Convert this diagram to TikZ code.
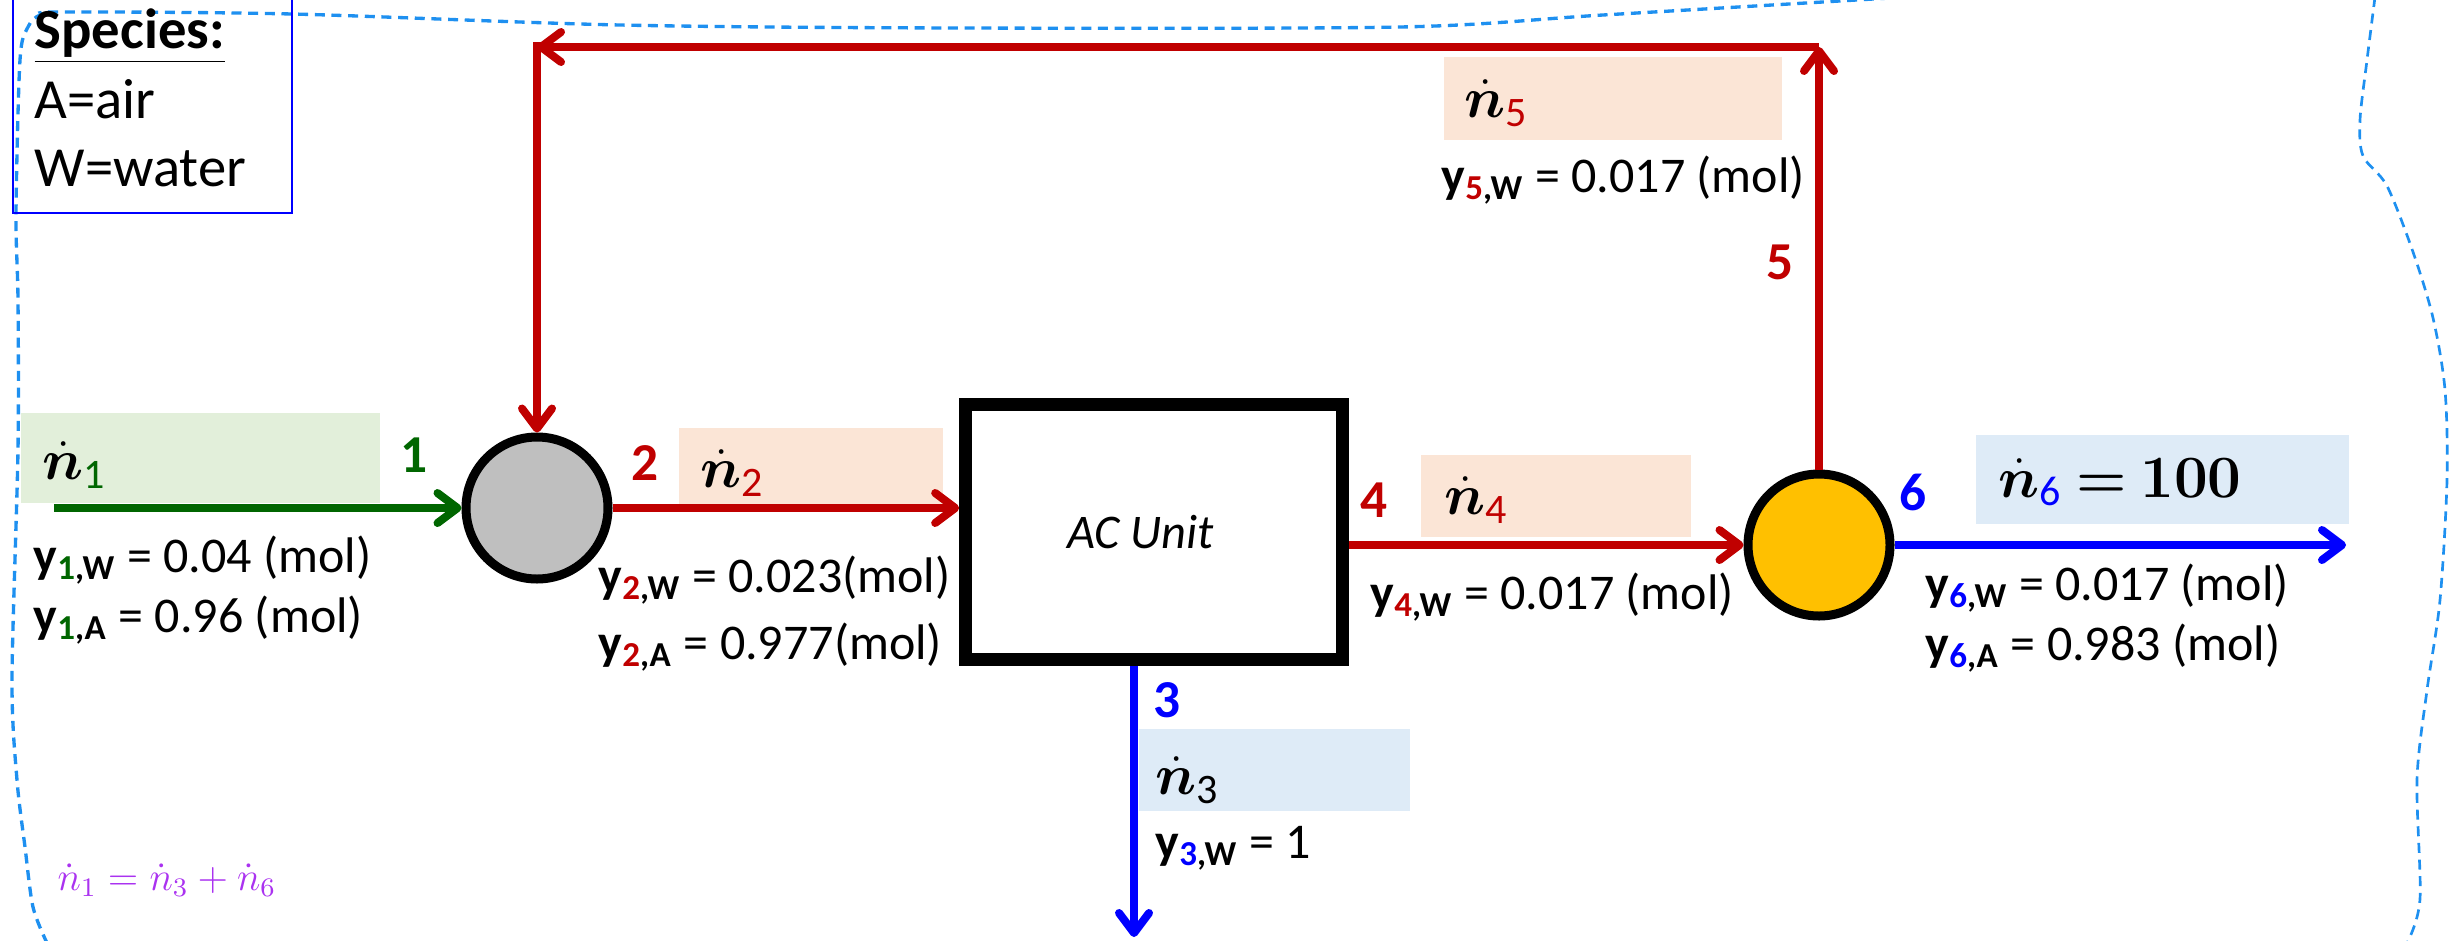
\documentclass[tikz,border=0pt]{standalone}
\usepackage{fontspec}
\setmainfont{Carlito}
\newfontfamily\lmserif{Latin Modern Roman}
\usepackage{bm}
\usetikzlibrary{arrows.meta}
\definecolor{strred}{RGB}{192,0,0}
\definecolor{strgreen}{RGB}{0,102,0}
\definecolor{strblue}{RGB}{0,0,255}
\definecolor{bggreen}{RGB}{226,239,218}
\definecolor{bgpeach}{RGB}{251,229,214}
\definecolor{bgblue}{RGB}{222,235,247}
\definecolor{mixgray}{RGB}{191,191,191}
\definecolor{splityellow}{RGB}{255,192,0}
\definecolor{envblue}{RGB}{30,144,240}
\definecolor{notepurple}{RGB}{170,50,240}
\newcommand{\ysub}[3]{\textbf{y}\textsubscript{\bfseries\textcolor{#1}{#2},#3}}
\newcommand{\ndot}[2]{$\dot{\bm{n}}$\textsubscript{\textcolor{#1}{#2}}}

\begin{document}
\begin{tikzpicture}[x=0.3pt,y=-0.3pt,font=\fontsize{15}{17}\selectfont,
  flow/.style={line width=2.4pt,-{Straight Barb[length=6pt,width=9pt,round]}},
  unit/.style={circle,draw,line width=2.7pt,minimum size=42.6pt,inner sep=0pt},
  num/.style={font=\fontsize{16}{18}\selectfont\bfseries},
  rate/.style={anchor=west,inner sep=0pt,font=\fontsize{18}{20}\selectfont},
  comp/.style={anchor=west,inner sep=0pt},
  spc/.style={anchor=base west,inner sep=0pt,font=\fontsize{17}{19}\selectfont},
  env/.style={envblue,line width=1pt,dash pattern=on 3pt off 2pt}]
  \useasboundingbox (0,0) rectangle (2460,940);

  % system envelope
  \draw[env] plot[smooth,tension=0.5] coordinates {(1907,-3) (1603,15) (1400,27) (960,28)
    (620,25) (292,14) (63,12) (40,15) (28,27) (20,60) (16,213) (18,300) (18,450)
    (12,680) (17,780) (25,847) (33,907) (47,943)};
  \draw[env,line width=0.8pt] plot[smooth,tension=0.5] coordinates {(2375,-3) (2367,60)
    (2360,120) (2363,156) (2387,186) (2413,252) (2433,318) (2445,390) (2447,480)
    (2440,600) (2427,690) (2417,779) (2420,899) (2407,943)};

  % species
  \draw[strblue,line width=0.6pt] (13,-5) rectangle (292,213);
  \node[spc,font=\fontsize{17}{19}\selectfont\bfseries] (spec) at (34,48) {\underline{Species:}};
  \node[spc] (air) at (34,118) {A=air};
  \node[spc] (water) at (34,186) {W=water};

  % label boxes
  \foreach \col/\xa/\ya/\xb/\yb in {bggreen/21/413/380/503, bgpeach/679/428/943/510,
      bgblue/1139/729/1410/811, bgpeach/1421/455/1691/537,
      bgpeach/1444/57/1782/140, bgblue/1976/435/2349/524}
    \fill[\col] (\xa,\ya) rectangle (\xb,\yb);

  % units
  \node[unit,fill=mixgray] (mix) at (537,508) {};
  \node[draw,line width=3.9pt,minimum width=113pt,minimum height=76.5pt,
    font=\fontsize{14.5}{16}\selectfont\itshape] (ac) at (1154,532) {AC Unit\hspace*{8pt}};
  \node[unit,fill=splityellow] (split) at (1819,545) {};

  % free ends
  \coordinate (in1) at (54,508);
  \coordinate (out3) at (1134,937);
  \coordinate (out6) at (2346,545);
  \coordinate (top5) at (1819,47);
  \coordinate (top2) at (537,47);

  % streams
  \draw[flow,strgreen] (in1) -- (mix);
  \draw[flow,strred] (mix) -- (mix -| ac.west);
  \draw[flow,strblue] (ac.south -| out3) -- (out3);
  \draw[flow,strred] (ac.east |- split) -- (split);
  \draw[flow,strblue] (split) -- (out6);
  \draw[flow,strred] (split) -- (top5);
  \draw[flow,strred] (top5) -- (top2);
  \draw[flow,strred,shorten <=-1.5pt] (top2) -- (mix);

  % stream numbers
  \node[num,strgreen] (s1) at (414,455) {1};
  \node[num,strred] (s2) at (645,463) {2};
  \node[num,strblue] (s3) at (1167,700) {3};
  \node[num,strred] (s4) at (1374,500) {4};
  \node[num,strred] (s5) at (1780,262) {5};
  \node[num,strblue] (s6) at (1913,492) {6};

  % flow rates
  \node[rate] (r1) at (42,465) {\ndot{strgreen}{1}};
  \node[rate] (r2) at (700,473) {\ndot{strred}{2}};
  \node[rate] (r3) at (1155,780) {\ndot{black}{3}};
  \node[rate] (r4) at (1444,500) {\ndot{strred}{4}};
  \node[rate] (r5) at (1464,103) {\ndot{strred}{5}};
  \node[rate] (r6) at (1998,482) {\ndot{strblue}{6} $\bm{=}$ {\lmserif\bfseries 100}};

  % compositions
  \node[comp] (c1w) at (33,560) {\ysub{strgreen}{1}{W} = 0.04 (mol)};
  \node[comp] (c1a) at (33,620) {\ysub{strgreen}{1}{A} = 0.96 (mol)};
  \node[comp] (c2w) at (598,580) {\ysub{strred}{2}{W} = 0.023(mol)};
  \node[comp] (c2a) at (598,647) {\ysub{strred}{2}{A} = 0.977(mol)};
  \node[comp] (c3w) at (1155,848) {\ysub{strblue}{3}{W} = 1};
  \node[comp] (c4w) at (1370,597) {\ysub{strred}{4}{W} = 0.017 (mol)};
  \node[comp] (c5w) at (1441,180) {\ysub{strred}{5}{W} = 0.017 (mol)};
  \node[comp] (c6w) at (1925,588) {\ysub{strblue}{6}{W} = 0.017 (mol)};
  \node[comp] (c6a) at (1925,648) {\ysub{strblue}{6}{A} = 0.983 (mol)};

  % balance note
  \node[anchor=west,inner sep=0pt,notepurple,font=\fontsize{12}{14}\selectfont] (note) at (57,880) {$\dot{n}_1 = \dot{n}_3 + \dot{n}_6$};
\end{tikzpicture}
\end{document}
